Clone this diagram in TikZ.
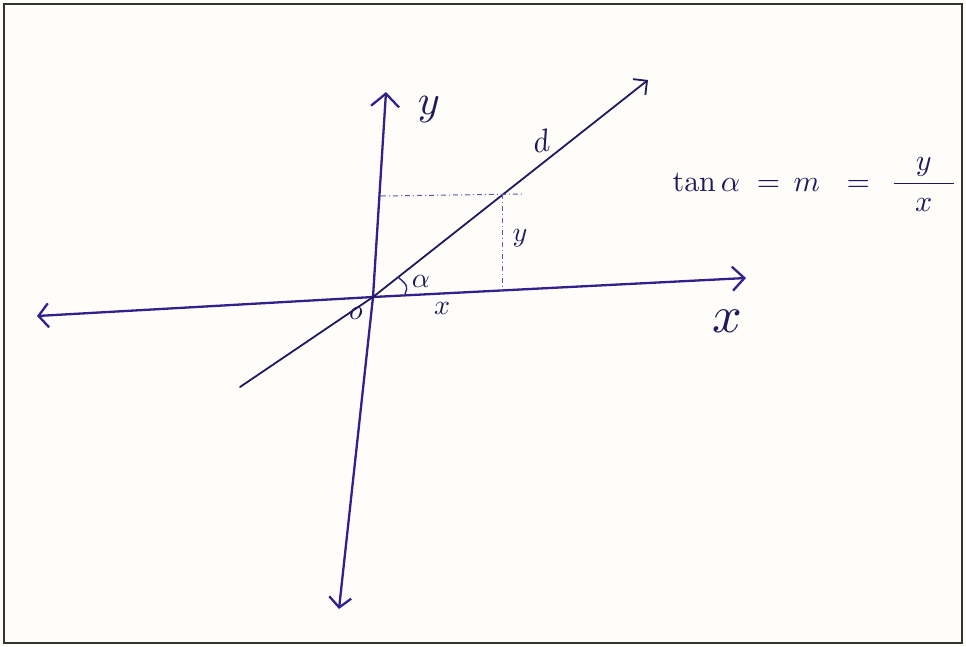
\documentclass[tikz,border=0pt]{standalone}
\usetikzlibrary{arrows.meta,calc}
\definecolor{ink}{RGB}{50,32,140}
\definecolor{darkink}{RGB}{32,26,92}
\definecolor{paper}{RGB}{254,253,249}
\begin{document}
\begin{tikzpicture}[x=1pt,y=-1pt,
  axisline/.style={draw=ink,line width=2.3pt,line cap=round},
  dline/.style={draw=darkink,line width=1.8pt,line cap=round},
  guide/.style={draw=ink!75,line width=1pt,dash pattern=on 5pt off 3pt on 1pt off 3pt},
  lbl/.style={text=darkink,inner sep=0pt}]
\useasboundingbox (0,0) rectangle (966,646);
\fill[paper] (0,0) rectangle (966,646);
\draw[black!80,line width=2.2pt] (4,4) rectangle (962,643);
% named points
\coordinate (O) at (373,297);
\coordinate (xL) at (37,316);
\coordinate (xR) at (746,278);
\coordinate (yT) at (386,92);
\coordinate (yB) at (339,609);
\coordinate (dL) at (240,387);
\coordinate (dR) at (648,80);
\coordinate (P) at (502,194);
\coordinate (Q) at (502,291);
\coordinate (H0) at (381,196);
\coordinate (H1) at (524,194);
% axes
\draw[axisline,{Straight Barb[length=10pt,width=24pt]}-{Straight Barb[length=12pt,width=24pt]}] (xL) -- (O) -- (xR);
\draw[axisline,{Straight Barb[length=10pt,width=22pt]}-{Straight Barb[length=13pt,width=28pt]}] (yB) -- (O) -- (yT);
% line d
\draw[dline,-{Straight Barb[length=10pt,width=20pt]}] (dL) -- (O) -- (dR);
% dashed projections
\draw[guide] (H0) -- (H1);
\draw[guide] (P) -- (Q);
% angle arc
\draw[draw=ink,line width=1.4pt] (405,294) .. controls (408,286) .. (398,277);
% labels
\node[lbl,scale=4.2] (ly) at (429,110) {$y$};
\node[lbl,scale=3.2,rotate=10] (ld) at (541,141) {$d$};
\node[lbl,scale=2.8] (la) at (421,281) {$\alpha$};
\node[lbl,scale=2.8] (lo) at (356,313) {$o$};
\node[lbl,scale=2.8] (lx) at (442,308) {$x$};
\node[lbl,scale=2.8] (lys) at (520,238) {$y$};
\node[lbl,scale=5.2] (lX) at (727,321) {$x$};
\node[lbl,scale=3.0,anchor=base west] (f) at (672,191) {$\displaystyle\tan\alpha\mkern10mu{=}\mkern8mu m\mkern16mu{=}\mkern12mu\frac{\mkern13mu y\mkern13mu}{\mkern13mu x\mkern13mu}$};
\end{tikzpicture}
\end{document}
